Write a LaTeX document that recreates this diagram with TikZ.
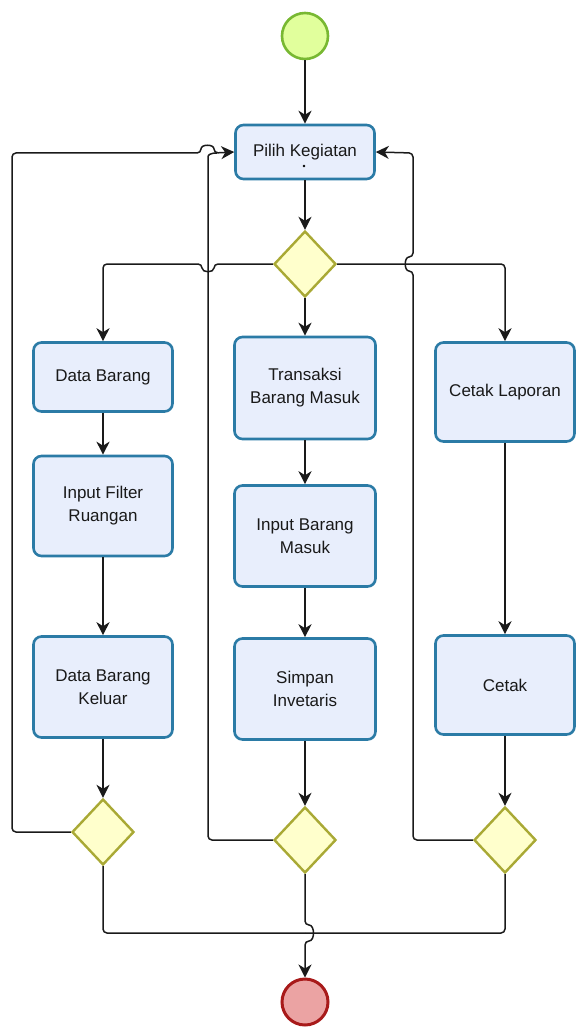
\documentclass[tikz,border=0pt]{standalone}
\usepackage{fontspec}
\setmainfont{Liberation Sans}
\usetikzlibrary{arrows.meta,shapes.geometric}
\definecolor{boxfill}{HTML}{E8EEFC}
\definecolor{boxline}{HTML}{2B7BA6}
\definecolor{gatefill}{HTML}{FFFFCC}
\definecolor{gateline}{HTML}{A9A935}
\definecolor{startfill}{HTML}{E1FF9C}
\definecolor{startline}{HTML}{78B832}
\definecolor{endfill}{HTML}{EBA3A3}
\definecolor{endline}{HTML}{A81A1A}
\definecolor{wire}{HTML}{1A1A1A}
\tikzset{
  task/.style={draw=boxline, fill=boxfill, line width=2.6pt, rounded corners=8pt,
    minimum width=139pt, align=center, inner sep=2pt, text=black!90,
    font=\fontsize{17}{23}\selectfont},
  gate/.style={diamond, draw=gateline, fill=gatefill, line width=2.4pt,
    minimum width=62pt, minimum height=66pt, inner sep=0pt},
  startev/.style={circle, draw=startline, fill=startfill, line width=2.6pt,
    minimum size=46pt, inner sep=0pt},
  endev/.style={circle, draw=endline, fill=endfill, line width=3pt,
    minimum size=46pt, inner sep=0pt},
  wireline/.style={draw=wire, line width=1.5pt, rounded corners=4pt},
  flow/.style={wireline, -{Stealth[length=13pt,width=13pt,inset=4pt]}},
}
\begin{document}
\begin{tikzpicture}[x=1pt,y=-1pt]
\useasboundingbox (0,0) rectangle (576,1027);

% events
\node[startev] (start) at (305,36) {};
\node[endev] (stop) at (305,1002) {};

% choice of activity
\node[task, minimum height=54pt] (pilih) at (305,152) {Pilih Kegiatan};
\node[circle, fill=black, inner sep=0pt, minimum size=2.6pt] (dot) at (304,166) {};
\node[gate] (dTop) at (305,264) {};

% left column
\node[task, minimum height=69pt] (db) at (103,377) {Data Barang};
\node[task, minimum height=100pt] (filt) at (103,506) {Input Filter\\Ruangan};
\node[task, minimum height=101pt] (dbk) at (103,687) {Data Barang\\Keluar};
\node[gate] (dL) at (103,832) {};

% middle column
\node[task, minimum width=141pt, minimum height=102pt] (tr) at (305,388) {Transaksi\\Barang Masuk};
\node[task, minimum width=141pt, minimum height=101pt] (ibm) at (305,536) {Input Barang\\Masuk};
\node[task, minimum width=141pt, minimum height=101pt] (si) at (305,689) {Simpan\\Invetaris};
\node[gate] (dM) at (305,840) {};

% right column
\node[task, minimum height=99pt] (cl) at (505,392) {Cetak Laporan};
\node[task, minimum height=99pt] (ct) at (505,685) {Cetak};
\node[gate] (dR) at (505,840) {};

% main flow
\draw[flow] (start) -- (pilih);
\draw[flow] (pilih) -- (dTop);

% branches out of the first gateway
\draw[flow] (dTop.west) -- (214,264) .. controls (214,273) and (202,273) .. (202,264)
  -- (103,264) -- (db.north);
\draw[flow] (dTop) -- (tr);
\draw[flow] (dTop.east) -- (505,264) -- (cl.north);

% column steps
\draw[flow] (db) -- (filt);
\draw[flow] (filt) -- (dbk);
\draw[flow] (dbk) -- (dL);
\draw[flow] (tr) -- (ibm);
\draw[flow] (ibm) -- (si);
\draw[flow] (si) -- (dM);
\draw[flow] (cl) -- (ct);
\draw[flow] (ct) -- (dR);

% loops back to the choice
\draw[flow] (dL.west) -- (12,832) -- (12,153) -- (201,153)
  .. controls (201,144) and (214,144) .. (214,153) -- (pilih.west);
\draw[wireline] (dM.west) -- (208,840) -- (208,161)
  .. controls (208,155) and (210,153) .. (217,153);
\draw[flow] (dR.west) -- (413,840) -- (413,271)
  .. controls (404,271) and (404,257) .. (413,257) -- (413,153) -- (pilih.east);

% joins towards the end
\draw[wireline] (dL.south) -- (103,933) -- (305,933);
\draw[wireline] (dR.south) -- (505,933) -- (305,933);
\draw[flow] (dM.south) -- (305,925) .. controls (315,925) and (315,941) .. (305,941)
  -- (stop.north);
\end{tikzpicture}
\end{document}
